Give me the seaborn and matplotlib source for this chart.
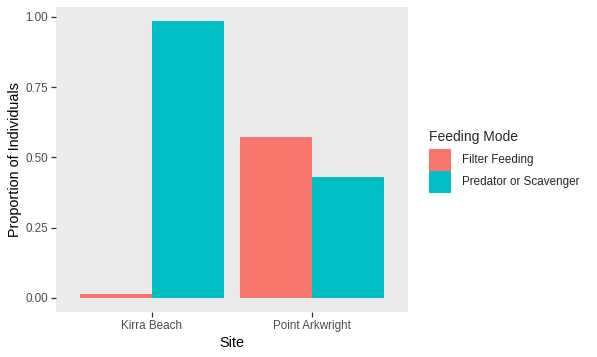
import matplotlib
matplotlib.use("Agg")
import matplotlib.pyplot as plt
import matplotlib.patches as mpatches
import seaborn as sns
import pandas as pd

sites = ["Kirra Beach", "Point Arkwright"]
modes = ["Filter Feeding", "Predator or Scavenger"]
filter_feeding = [0.015, 0.571]
predator = [0.985, 0.429]
colors = ["#F8766D", "#00BFC4"]

df = pd.DataFrame({
    "Site": sites * 2,
    "Feeding Mode": [modes[0]] * 2 + [modes[1]] * 2,
    "Proportion": filter_feeding + predator,
})

sns.set_theme(style="white")
plt.rcParams["font.family"] = ["Liberation Sans", "DejaVu Sans"]

fig = plt.figure(figsize=(5.97, 3.57), dpi=100)
ax = fig.add_axes([56 / 597, 1 - 311.7 / 357, (407.7 - 56) / 597, (311.7 - 6.7) / 357])
sns.barplot(data=df, x="Site", y="Proportion", hue="Feeding Mode",
            hue_order=modes, palette=colors, width=0.9, saturation=1,
            errorbar=None, ax=ax, legend=False, linewidth=0)
ax.set_facecolor("#EBEBEB")
for s in ax.spines.values():
    s.set_visible(False)
ax.set_xlim(-0.6, 1.6)
ax.set_ylim(-0.049, 1.036)
ax.set_yticks([0, 0.25, 0.5, 0.75, 1.0])
ax.set_yticklabels(["0.00", "0.25", "0.50", "0.75", "1.00"])
ax.tick_params(axis="both", which="major", length=3.5, width=0.9, color="#333333",
               labelcolor="#4D4D4D", labelsize=8.4, pad=2.5, left=True, bottom=True)
ax.set_xlabel("Site", fontsize=10.4, color="black", labelpad=3)
ax.set_ylabel("Proportion of Individuals", fontsize=10.4, color="black", labelpad=2)
ax.grid(False)

handles = [mpatches.Patch(facecolor=c, edgecolor="none") for c in colors]
leg = ax.legend(handles, modes, title="Feeding Mode", loc="upper left",
                bbox_to_anchor=(429 / 597, 1 - 130 / 357), bbox_transform=fig.transFigure,
                frameon=False, fontsize=8.4, title_fontsize=10.0,
                handlelength=1.85, handleheight=2.5, handletextpad=0.95,
                labelspacing=0.0, borderpad=0, borderaxespad=0, alignment="left")
leg._legend_box.sep = 3.6

fig.savefig("out.png", dpi=100, facecolor="white")
